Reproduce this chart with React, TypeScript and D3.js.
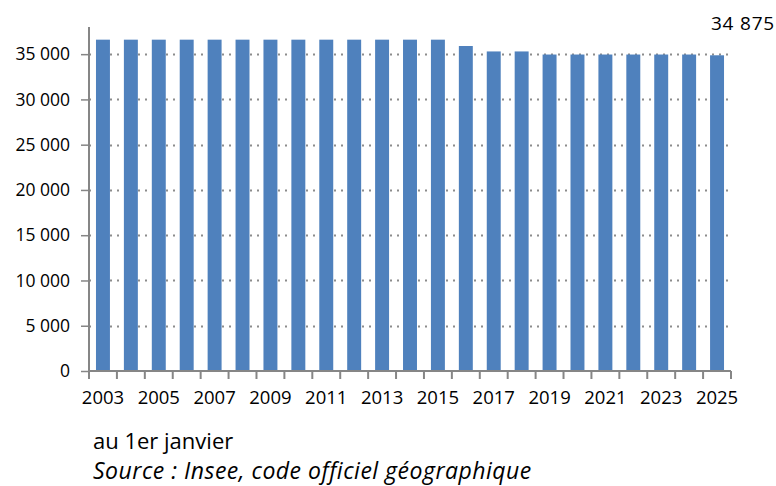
import React, { useRef, useEffect } from "react";
import * as d3 from "d3";

const width = 776;
const height = 486;
const margin = { top: 27, left: 89, bottom: 115, right: 45 };
const iwidth = width - margin.left - margin.right;
const iheight = height - margin.top - margin.bottom;

const years = [
  "2003", "2004", "2005", "2006", "2007", "2008", "2009", "2010", "2011", "2012", "2013", "2014",
  "2015", "2016", "2017", "2018", "2019", "2020", "2021", "2022", "2023", "2024", "2025",
];
const communes = [
  36600, 36600, 36600, 36600, 36600, 36600, 36600, 36600, 36600, 36600, 36600, 36600,
  36600, 35900, 35300, 35300, 34960, 34960, 34960, 34960, 34960, 34960, 34875,
];
const yTicks = [0, 5000, 10000, 15000, 20000, 25000, 30000, 35000];
const lastLabel = "34 875";
const note = "au 1er janvier";
const source = "Source : Insee, code officiel géographique";

const font = "'Open Sans', sans-serif";
const fmt = (v: number) => d3.format(",")(v).replace(/,/g, "\u00a0");

const App = () => {
  const ref = useRef<SVGSVGElement>(null);

  useEffect(() => {
    const svg = d3.select(ref.current);
    svg.selectAll("*").remove();

    const g = svg
      .append("g")
      .attr("transform", `translate(${margin.left},${margin.top})`);

    const y = d3.scaleLinear().domain([0, 38000]).range([iheight, 0]);
    const x = d3.scaleBand().domain(years).range([0, iwidth]).paddingInner(0.5).paddingOuter(0.25);

    // dotted gridlines
    g.selectAll("line.grid")
      .data(yTicks.filter((d) => d > 0))
      .enter()
      .append("line")
      .attr("class", "grid")
      .attr("x1", 0)
      .attr("x2", iwidth)
      .attr("y1", (d) => Math.round(y(d)) + 0.5)
      .attr("y2", (d) => Math.round(y(d)) + 0.5)
      .attr("stroke", "#8c8c8c")
      .attr("stroke-width", 2)
      .attr("stroke-dasharray", "2,5");

    g.selectAll("rect")
      .data(communes)
      .enter()
      .append("rect")
      .attr("x", (d, i) => x(years[i])!)
      .attr("y", (d) => y(d))
      .attr("width", x.bandwidth())
      .attr("height", (d) => iheight - y(d))
      .style("fill", "#4f81bd");

    // y axis
    const yAxis = g
      .append("g")
      .call(d3.axisLeft(y).tickValues(yTicks).tickFormat((d) => fmt(+d)).tickSize(8).tickPadding(11));
    yAxis.select(".domain").attr("stroke", "#868686").attr("stroke-width", 2).attr("d", `M0,0V${iheight}`);
    yAxis.selectAll(".tick line").attr("stroke", "#868686").attr("stroke-width", 1.5);
    yAxis.selectAll("text").attr("font-family", font).attr("font-size", 17.5).attr("fill", "#000");

    // x axis: ticks on band edges, labels every other year
    const xg = g.append("g").attr("transform", `translate(0,${iheight})`);
    xg.append("line")
      .attr("x1", 0)
      .attr("x2", iwidth)
      .attr("stroke", "#868686")
      .attr("stroke-width", 2);
    const step = x.step();
    const edges = d3.range(years.length + 1).map((i) => i * step);
    xg.selectAll("line.tk")
      .data(edges)
      .enter()
      .append("line")
      .attr("class", "tk")
      .attr("x1", (d) => d)
      .attr("x2", (d) => d)
      .attr("y1", 0)
      .attr("y2", 8)
      .attr("stroke", "#868686")
      .attr("stroke-width", 2);
    xg.selectAll("text")
      .data(years.filter((d, i) => i % 2 === 0))
      .enter()
      .append("text")
      .attr("x", (d) => x(d)! + x.bandwidth() / 2)
      .attr("y", 33)
      .attr("text-anchor", "middle")
      .attr("font-family", font)
      .attr("font-size", 18.5)
      .text((d) => d);

    svg.append("text")
      .attr("x", 775)
      .attr("y", 30)
      .attr("text-anchor", "end")
      .attr("font-family", font)
      .attr("font-size", 19)
      .attr("letter-spacing", 0.8)
      .text(lastLabel);

    svg.append("text")
      .attr("x", 93)
      .attr("y", 449)
      .attr("font-family", font)
      .attr("font-size", 22)
      .text(note);

    svg.append("text")
      .attr("x", 93)
      .attr("y", 479)
      .attr("font-family", font)
      .attr("font-size", 23)
      .attr("letter-spacing", 0.5)
      .attr("font-style", "italic")
      .text(source);
  }, []);

  return (
    <svg ref={ref} width={width} height={height} style={{ position: "absolute", left: 0, top: 0 }}></svg>
  );
};

export default App;
